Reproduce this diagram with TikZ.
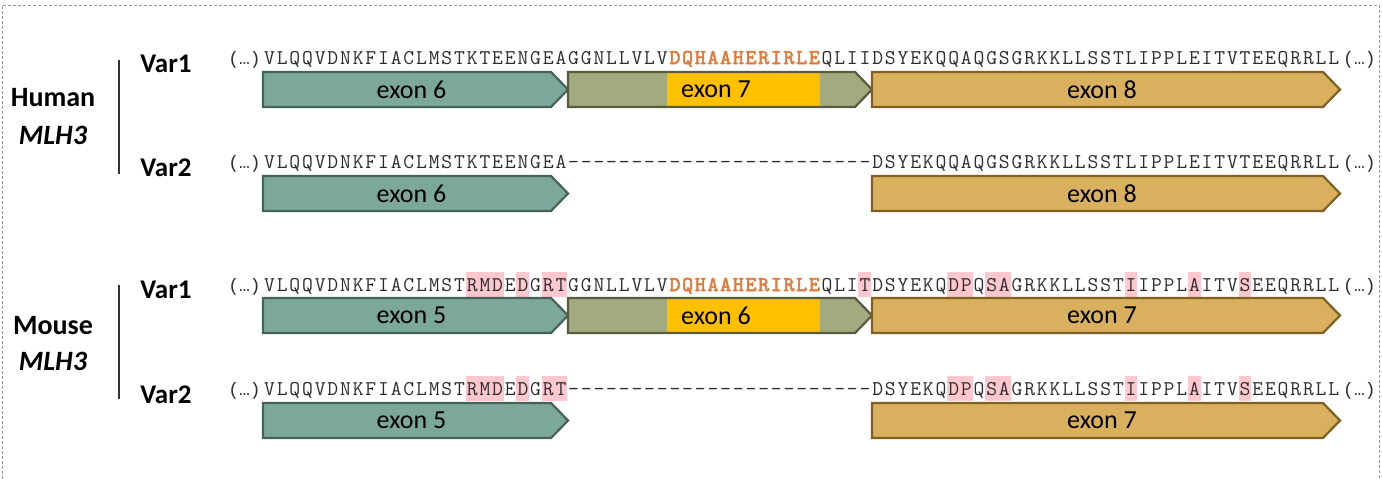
\documentclass[tikz,border=0pt]{standalone}
\usepackage{fontspec}
\setmainfont{Carlito}
\newfontfamily\seqfont[Ligatures=TeXOff]{Liberation Mono}
\newfontfamily\seqbold[FakeBold=2.5]{lmmono10-regular.otf}
\definecolor{tealfill}{RGB}{123,168,155}
\definecolor{tealdraw}{RGB}{70,98,88}
\definecolor{olivefill}{RGB}{164,170,128}
\definecolor{olivedraw}{RGB}{86,92,62}
\definecolor{goldfill}{RGB}{217,177,94}
\definecolor{golddraw}{RGB}{128,96,34}
\definecolor{exonyellow}{RGB}{255,192,0}
\definecolor{seqorange}{RGB}{226,121,58}
\definecolor{seqgray}{RGB}{45,45,45}
\definecolor{pinkhl}{RGB}{255,199,206}
\definecolor{framegray}{RGB}{150,150,150}
\newcommand\cw{12.67}
\makeatletter
\newcommand\cellrun[1]{\@tfor\cc:=#1\do{\makebox[\cw pt][c]{\cc}}}
\makeatother
\newcommand\seqrow[3]{\cellrun{#1}{\seqbold\color{seqorange}\cellrun{#2}}\cellrun{#3}}
\newcommand\exonbox[7]{%
  \filldraw[exonline, fill=#5, draw=#6] (#2,#4) -- ({#3-17},#4) -- (#3,{#4+17.5}) -- ({#3-17},{#4+35}) -- (#2,{#4+35}) -- cycle;
  \node[exonlabel] (#1) at ({(#2+#3-8)/2},{#4+17.5}) {#7};
}
\newcommand\exonboxhl[7]{%
  \fill[olivefill] (#2,#4) -- ({#3-17},#4) -- (#3,{#4+17.5}) -- ({#3-17},{#4+35}) -- (#2,{#4+35}) -- cycle;
  \fill[exonyellow] (#6,#4) rectangle (#7,{#4+35});
  \draw[exonline, draw=olivedraw] (#2,#4) -- ({#3-17},#4) -- (#3,{#4+17.5}) -- ({#3-17},{#4+35}) -- (#2,{#4+35}) -- cycle;
  \node[exonlabel] (#1) at ({(#2+#3-8)/2},{#4+17.5}) {#5};
}
\newcommand\hlmark[3]{%
  \fill[pinkhl] ({263+#2*\cw},{#1-19}) rectangle ({263+(#2+#3)*\cw},{#1+6});
}
\tikzset{
  seqtext/.style={anchor=base west, inner sep=0pt, font=\ttfamily\fontsize{21}{24}\selectfont, text=seqgray},
  elltextL/.style={anchor=base east, inner sep=0pt, font=\seqfont\fontsize{18}{20}\selectfont, text=seqgray},
  elltextR/.style={anchor=base west, inner sep=0pt, font=\seqfont\fontsize{18}{20}\selectfont, text=seqgray},
  exonline/.style={line width=2.2pt, line join=miter},
  exonlabel/.style={inner sep=0pt, font=\fontsize{26}{30}\selectfont, text=black},
  varlabel/.style={inner sep=0pt, font=\bfseries\fontsize{27}{30}\selectfont, text=black},
  species/.style={inner sep=0pt, font=\bfseries\fontsize{28}{32}\selectfont, text=black},
  speciesgene/.style={inner sep=0pt, font=\bfseries\itshape\fontsize{28}{32}\selectfont, text=black},
  sepline/.style={line width=1.6pt, draw=black!80},
}
\begin{document}
\begin{tikzpicture}[x=1pt,y=-1pt]
\useasboundingbox (0,0) rectangle (1382,479);
\draw[framegray, dash pattern=on 3pt off 2pt, line width=0.9pt] (2,479) -- (2,5.5) -- (1379,5.5) -- (1379,479);

% left labels
\node[species] (hum) at (53,98) {Human};
\node[speciesgene] (hgene) at (53,135) {MLH3};
\coordinate (hlt) at (119,60);
\coordinate (hlb) at (119,174);
\draw[sepline] (hlt) -- (hlb);
\node[species] (mou) at (53,326) {Mouse};
\node[speciesgene] (mgene) at (53,361) {MLH3};
\coordinate (mlt) at (119,285);
\coordinate (mlb) at (119,399);
\draw[sepline] (mlt) -- (mlb);

\node[varlabel] (hv1) at (166,64) {Var1};
\node[varlabel] (hv2) at (166,168) {Var2};
\node[varlabel] (mv1) at (166,290) {Var1};
\node[varlabel] (mv2) at (166,395) {Var2};

% highlights (mouse)
\foreach \b in {291,395} {
  \hlmark{\b}{16}{3}
  \hlmark{\b}{20}{1}
  \hlmark{\b}{22}{2}
  \hlmark{\b}{54}{2}
  \hlmark{\b}{57}{2}
  \hlmark{\b}{68}{1}
  \hlmark{\b}{73}{1}
  \hlmark{\b}{77}{1}
}
\hlmark{291}{47}{1}

% sequences
\node[elltextL] (h1l) at (261,64) {(…)};
\node[seqtext] (h1s) at (263,64) {\seqrow{VLQQVDNKFIACLMSTKTEENGEAGGNLLVLV}{DQHAAHERIRLE}{QLIIDSYEKQQAQGSGRKKLLSSTLIPPLEITVTEEQRRLL}};
\node[elltextR] (h1r) at (1343,64) {(…)};

\node[elltextL] (h2l) at (261,168) {(…)};
\node[seqtext] (h2s) at (263,168) {\cellrun{VLQQVDNKFIACLMSTKTEENGEA------------------------DSYEKQQAQGSGRKKLLSSTLIPPLEITVTEEQRRLL}};
\node[elltextR] (h2r) at (1343,168) {(…)};

\node[elltextL] (m1l) at (261,291) {(…)};
\node[seqtext] (m1s) at (263,291) {\seqrow{VLQQVDNKFIACLMSTRMDEDGRTGGNLLVLV}{DQHAAHERIRLE}{QLITDSYEKQDPQSAGRKKLLSSTIIPPLAITVSEEQRRLL}};
\node[elltextR] (m1r) at (1343,291) {(…)};

\node[elltextL] (m2l) at (261,395) {(…)};
\node[seqtext] (m2s) at (263,395) {\cellrun{VLQQVDNKFIACLMSTRMDEDGRT------------------------DSYEKQDPQSAGRKKLLSSTIIPPLAITVSEEQRRLL}};
\node[elltextR] (m2r) at (1343,395) {(…)};

% exons human
\exonbox{h1e6}{263}{568}{72}{tealfill}{tealdraw}{exon 6}
\exonboxhl{h1e7}{568}{872}{72}{exon 7}{667}{820}
\exonbox{h1e8}{872}{1340}{72}{goldfill}{golddraw}{exon 8}
\exonbox{h2e6}{263}{568}{176}{tealfill}{tealdraw}{exon 6}
\exonbox{h2e8}{872}{1340}{176}{goldfill}{golddraw}{exon 8}
% exons mouse
\exonbox{m1e5}{263}{568}{298}{tealfill}{tealdraw}{exon 5}
\exonboxhl{m1e6}{568}{872}{298}{exon 6}{667}{820}
\exonbox{m1e7}{872}{1340}{298}{goldfill}{golddraw}{exon 7}
\exonbox{m2e5}{263}{568}{403}{tealfill}{tealdraw}{exon 5}
\exonbox{m2e7}{872}{1340}{403}{goldfill}{golddraw}{exon 7}
\end{tikzpicture}
\end{document}
